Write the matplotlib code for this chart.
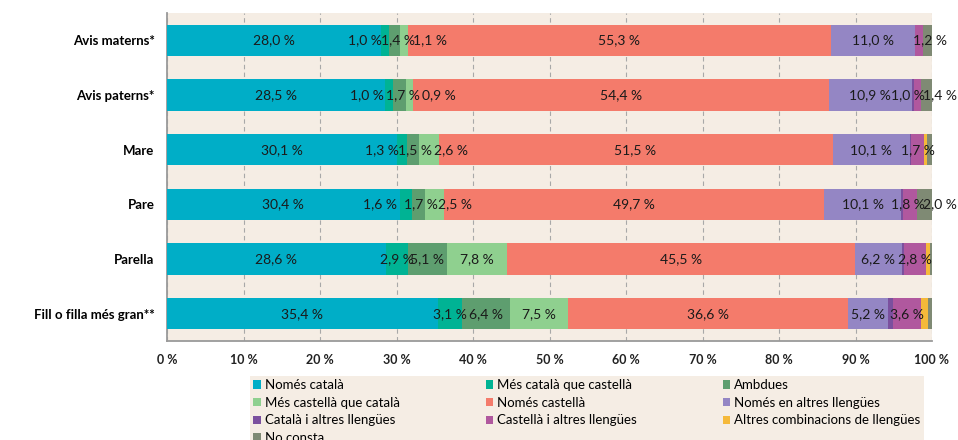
import numpy as np
import matplotlib
matplotlib.use('Agg')
import matplotlib.pyplot as plt
from matplotlib.patches import Patch

plt.rcParams['font.family'] = ['Lato', 'DejaVu Sans']

categories = ['Avis materns*', 'Avis paterns*', 'Mare', 'Pare', 'Parella',
              'Fill o filla més gran**']
series = ['Només català', 'Més català que castellà', 'Ambdues',
          'Més castellà que català', 'Només castellà', 'Només en altres llengües',
          'Català i altres llengües', 'Castellà i altres llengües',
          'Altres combinacions de llengües', 'No consta']
# one row per category, one column per series (%)
values = np.array([
    [28.0, 1.0, 1.4, 1.1, 55.3, 11.0, 0.0, 1.0, 0.0, 1.2],
    [28.5, 1.0, 1.7, 0.9, 54.4, 10.9, 0.2, 1.0, 0.0, 1.4],
    [30.1, 1.3, 1.5, 2.6, 51.5, 10.1, 0.2, 1.7, 0.3, 0.7],
    [30.4, 1.6, 1.7, 2.5, 49.7, 10.1, 0.2, 1.8, 0.1, 2.0],
    [28.6, 2.9, 5.1, 7.8, 45.5, 6.2, 0.3, 2.8, 0.5, 0.3],
    [35.4, 3.1, 6.4, 7.5, 36.6, 5.2, 0.7, 3.6, 1.0, 0.5],
])
# which segments carry a value label
labelled = [
    [0, 1, 2, 3, 4, 5, 9],
    [0, 1, 2, 3, 4, 5, 7, 9],
    [0, 1, 2, 3, 4, 5, 7],
    [0, 1, 2, 3, 4, 5, 7, 9],
    [0, 1, 2, 3, 4, 5, 7],
    [0, 1, 2, 3, 4, 5, 7],
]
xticks = [0, 10, 20, 30, 40, 50, 60, 70, 80, 90, 100]
xticklabels = ['0 %', '10 %', '20 %', '30 %', '40 %', '50 %', '60 %', '70 %',
               '80 %', '90 %', '100 %']

colors = ['#00aec7', '#00b394', '#5e9e6f', '#8fd08f', '#f47b6b', '#9486c4',
          '#7b509e', '#b0589e', '#f5b93a', '#7f8a74']
# horizontal nudges for crowded labels (in % units)
nudge = {(0, 1): -2.6, (0, 2): 0.5, (0, 3): 3.4, (0, 9): 0.4,
         (1, 1): -2.8, (1, 2): 0.5, (1, 3): 3.9, (1, 7): -1.2, (1, 9): 1.7,
         (2, 1): -2.7, (2, 2): 0.3, (2, 3): 2.9,
         (3, 1): -3.3, (3, 2): 0.4, (3, 3): 2.7, (3, 7): -0.3, (3, 9): 1.9}

bg = '#f5ede4'
fig = plt.figure(figsize=(9.58, 4.4), dpi=100)
ax = fig.add_axes([167/958, 1-341/440, (932-167)/958, (341-13)/440])
ax.set_facecolor(bg)

y = np.arange(len(categories))
left = np.zeros(len(categories))
for j, name in enumerate(series):
    ax.barh(y, values[:, j], left=left, height=0.57, color=colors[j],
            label=name, zorder=3)
    for i in range(len(categories)):
        if j in labelled[i]:
            v = values[i, j]
            xc = left[i] + v / 2 + nudge.get((i, j), 0)
            ax.text(xc, y[i], f'{v:.1f}'.replace('.', ',') + ' %',
                    ha='center', va='center', fontsize=10, color='#1a1a1a',
                    zorder=4)
    left += values[:, j]

ax.set_xlim(0, 100)
ax.set_ylim(len(categories) - 0.5, -0.5)
ax.set_xticks(xticks)
ax.set_xticklabels(xticklabels, fontsize=9, fontweight='bold', color='#222222')
ax.set_yticks(y)
ax.set_yticklabels(categories, fontsize=9.5, fontweight='bold')
ax.tick_params(axis='x', length=0, pad=9)
ax.tick_params(axis='y', length=0, pad=9)
ax.grid(axis='x', linestyle=(0, (4, 3)), color='#a8a8a8', linewidth=0.8, zorder=0)
for s in ['top', 'right']:
    ax.spines[s].set_visible(False)
for s in ['left', 'bottom']:
    ax.spines[s].set_color('#9a9a9a')
    ax.spines[s].set_linewidth(1.3)

# legend filled row-wise in the reference
handles = [Patch(facecolor=c, edgecolor='none') for c in colors]
order = [0, 3, 6, 9, 1, 4, 7, 2, 5, 8]
leg = fig.legend([handles[k] for k in order], [series[k] for k in order],
                 loc='upper left', bbox_to_anchor=(250/958, 0, 674/958, 1-376/440),
                 mode='expand', ncol=3, fontsize=9.5, frameon=True,
                 handlelength=0.6, handleheight=0.6, handletextpad=0.3,
                 labelspacing=0.42, borderpad=0.25, borderaxespad=0)
leg.get_frame().set_facecolor(bg)
leg.get_frame().set_edgecolor('none')
leg.get_frame().set_alpha(1)
leg.get_frame().set_boxstyle('square', pad=0)

fig.savefig('out.png', dpi=100, facecolor='white')
